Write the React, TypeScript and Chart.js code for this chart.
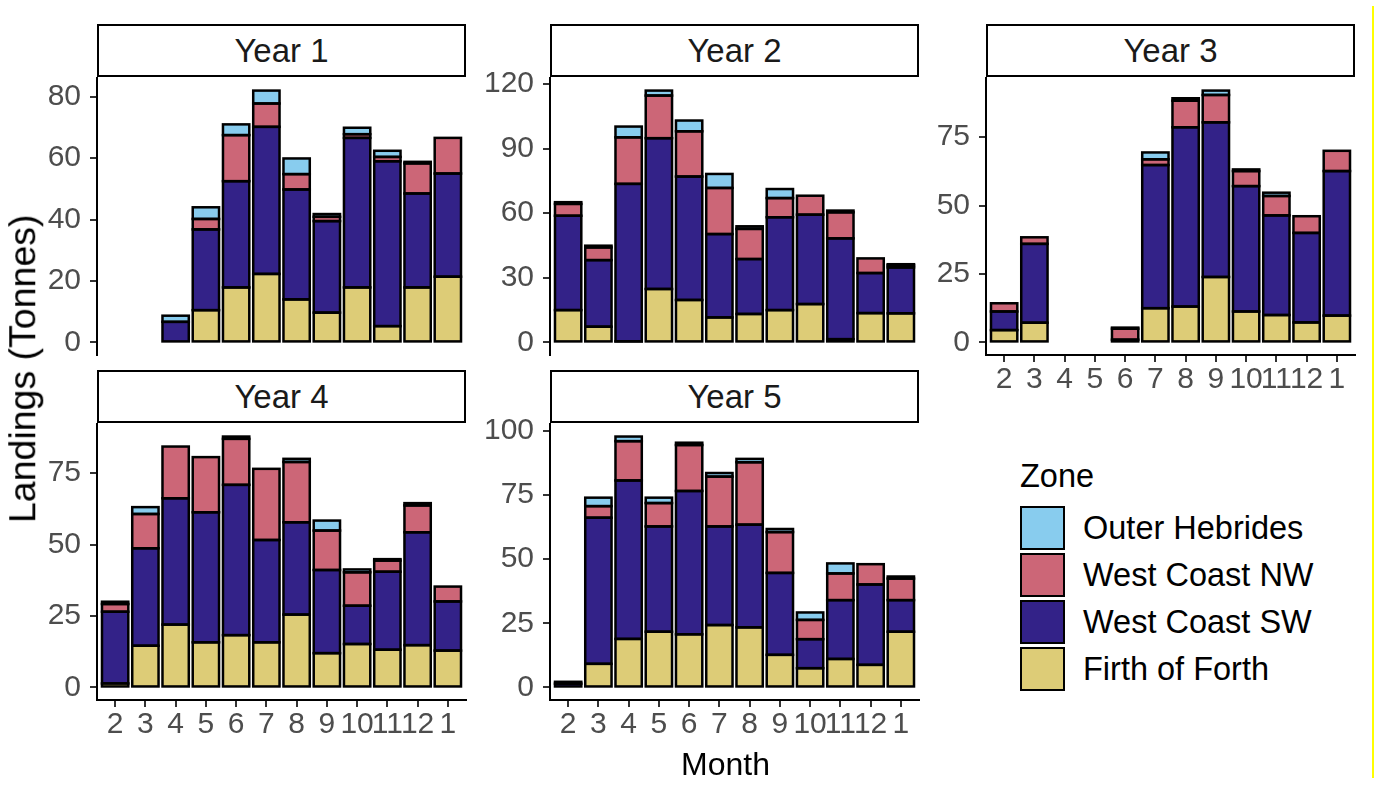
import React, { useEffect, useRef } from 'react';
import { Chart, registerables } from 'chart.js';

Chart.register(...registerables);

// ---------- data ----------
const MONTHS = ['2', '3', '4', '5', '6', '7', '8', '9', '10', '11', '12', '1'];
const ZONES = ['Outer Hebrides', 'West Coast NW', 'West Coast SW', 'Firth of Forth'];
const ZONE_COLORS = ['#88CCEE', '#CC6677', '#332288', '#DDCC77'];
const YEARS = ['Year 1', 'Year 2', 'Year 3', 'Year 4', 'Year 5'];

const Y1_FOF = [0, 0, 0, 10.5, 17.9, 22.3, 14.0, 9.7, 17.9, 5.3, 17.9, 21.4];
const Y1_WCSW = [0, 0, 6.7, 26.3, 34.6, 47.9, 35.8, 29.8, 48.7, 53.7, 30.6, 33.6];
const Y1_WCNW = [0, 0, 0, 3.4, 15.0, 7.6, 5.0, 1.4, 1.2, 1.4, 9.8, 11.6];
const Y1_OH = [0, 0, 2.0, 3.8, 3.5, 4.2, 5.1, 0.9, 2.1, 2.0, 0.5, 0];

const Y2_FOF = [15.0, 7.3, 0.5, 24.8, 19.7, 11.6, 13.2, 15.0, 17.8, 1.5, 13.6, 13.5];
const Y2_WCSW = [43.8, 30.9, 73.1, 70.0, 57.3, 38.7, 25.5, 43.1, 41.5, 46.8, 18.6, 21.3];
const Y2_WCNW = [5.5, 5.9, 21.6, 19.8, 21.0, 21.4, 14.0, 8.9, 8.8, 12.1, 6.8, 1.0];
const Y2_OH = [0.8, 0.8, 5.0, 2.3, 5.0, 6.5, 1.2, 4.2, 0, 0.8, 0, 0.5];

const Y3_FOF = [4.5, 7.2, 0, 0, 0, 12.5, 13.1, 23.9, 11.3, 10.0, 7.3, 9.8];
const Y3_WCSW = [6.8, 28.8, 0, 0, 1.0, 52.3, 65.5, 56.5, 45.8, 36.4, 32.7, 52.8];
const Y3_WCNW = [3.0, 2.4, 0, 0, 4.0, 2.1, 9.7, 10.0, 5.5, 7.1, 6.1, 7.4];
const Y3_OH = [0, 0, 0, 0, 0.4, 2.5, 0.9, 1.6, 0.6, 1.2, 0, 0];

const Y4_FOF = [1.4, 14.6, 22.0, 15.8, 18.3, 15.8, 25.5, 12.0, 15.2, 13.2, 14.8, 12.9];
const Y4_WCSW = [25.1, 34.1, 44.2, 45.5, 52.6, 35.8, 32.3, 29.1, 13.4, 27.3, 39.5, 17.2];
const Y4_WCNW = [2.7, 12.0, 18.1, 19.3, 16.1, 24.9, 21.1, 13.8, 11.7, 3.9, 9.4, 5.2];
const Y4_OH = [0.8, 2.4, 0, 0, 0.8, 0, 1.1, 3.5, 1.0, 0.5, 0.8, 0];

const Y5_FOF = [0, 9.2, 18.9, 21.7, 20.7, 24.3, 23.4, 12.7, 7.5, 11.1, 8.8, 21.7];
const Y5_WCSW = [1.5, 56.9, 61.7, 41.0, 55.8, 38.4, 40.0, 31.9, 11.3, 22.9, 31.3, 12.3];
const Y5_WCNW = [0.7, 4.5, 15.3, 9.1, 17.9, 19.4, 24.3, 15.9, 7.5, 10.4, 7.9, 8.4];
const Y5_OH = [0, 3.3, 1.8, 2.1, 0.9, 1.4, 1.3, 1.2, 2.9, 3.9, 0, 0.8];

const Y_TICKS_1 = [0, 20, 40, 60, 80];
const Y_TICKS_2 = [0, 30, 60, 90, 120];
const Y_TICKS_3 = [0, 25, 50, 75];
const Y_TICKS_4 = [0, 25, 50, 75];
const Y_TICKS_5 = [0, 25, 50, 75, 100];

// series per panel, bottom -> top stacking order: FoF, WCSW, WCNW, OH
const PANEL_SERIES = [
  [Y1_FOF, Y1_WCSW, Y1_WCNW, Y1_OH],
  [Y2_FOF, Y2_WCSW, Y2_WCNW, Y2_OH],
  [Y3_FOF, Y3_WCSW, Y3_WCNW, Y3_OH],
  [Y4_FOF, Y4_WCSW, Y4_WCNW, Y4_OH],
  [Y5_FOF, Y5_WCSW, Y5_WCNW, Y5_OH],
];
const PANEL_TICKS = [Y_TICKS_1, Y_TICKS_2, Y_TICKS_3, Y_TICKS_4, Y_TICKS_5];

// ---------- layout ----------
const FONT = '"Liberation Sans", Arial, Helvetica, sans-serif';
const PANEL_BOXES = [
  { x: 97, y: 78, w: 369, h: 277, showX: false },
  { x: 550, y: 78, w: 369, h: 277, showX: false },
  { x: 986, y: 78, w: 369, h: 277, showX: true },
  { x: 97, y: 424, w: 369, h: 276, showX: true },
  { x: 550, y: 424, w: 369, h: 276, showX: true },
];
const TICK_SIZE = 30;
const STRIP_SIZE = 33;
const LEGEND_SIZE = 32.5;
const TITLE_SIZE = 32;
const YTITLE_SIZE = 37.5;

// ggplot-like outline: stroke centred on each bar rectangle
const outlinePlugin = {
  id: 'barOutline',
  afterDatasetsDraw(chart: any) {
    const ctx = chart.ctx;
    ctx.save();
    ctx.strokeStyle = '#000000';
    ctx.lineWidth = 2.5;
    ctx.lineJoin = 'miter';
    chart.data.datasets.forEach((ds: any, di: number) => {
      const meta = chart.getDatasetMeta(di);
      meta.data.forEach((el: any, i: number) => {
        const p = ds.data[i];
        if (!p || p.y == null) return;
        const { x, y, base, width } = el.getProps(['x', 'y', 'base', 'width'], true);
        const top = Math.min(y, base);
        const h = Math.abs(base - y);
        ctx.strokeRect(x - width / 2, top, width, h);
      });
    });
    ctx.restore();
  },
};

function Panel({ index }: { index: number }) {
  const ref = useRef<HTMLCanvasElement | null>(null);
  const box = PANEL_BOXES[index];
  const PAD_T = 40;
  const PAD_B = 40;
  const PAD_R = 30;
  const Y_W = 90;
  const X_H = box.showX ? 50 : 0;
  const cw = Y_W + box.w + PAD_R;
  const ch = PAD_T + box.h + X_H + PAD_B;

  useEffect(() => {
    const series = PANEL_SERIES[index];
    const ticks = PANEL_TICKS[index];
    const totals = MONTHS.map((_, i) => series.reduce((s, arr) => s + arr[i], 0));
    const maxT = Math.max(...totals);
    // zones bottom->top: FoF(3), WCSW(2), WCNW(1), OH(0)
    const zoneIdx = [3, 2, 1, 0];
    const datasets = series.map((arr, k) => ({
      label: ZONES[zoneIdx[k]],
      data: arr.map((v, i) => ({ x: i + 1, y: v > 0 ? v : null })),
      backgroundColor: ZONE_COLORS[zoneIdx[k]],
      borderWidth: 0,
      barPercentage: 0.87,
      categoryPercentage: 1,
    }));

    const chart = new Chart(ref.current as HTMLCanvasElement, {
      type: 'bar',
      data: { datasets: datasets as any },
      plugins: [outlinePlugin],
      options: {
        animation: false,
        responsive: false,
        maintainAspectRatio: false,
        devicePixelRatio: 1,
        layout: { padding: { top: PAD_T, bottom: PAD_B, left: 0, right: PAD_R } },
        plugins: {
          legend: { display: false },
          tooltip: { enabled: false },
          title: { display: false },
        },
        scales: {
          x: {
            type: 'linear',
            stacked: true,
            min: 0.4,
            max: 12.6,
            offset: false,
            display: box.showX,
            afterBuildTicks: (s: any) => {
              s.ticks = MONTHS.map((_, i) => ({ value: i + 1 }));
            },
            afterFit: (s: any) => {
              s.height = X_H;
            },
            grid: {
              display: true,
              offset: false,
              drawOnChartArea: false,
              drawTicks: true,
              tickLength: 7,
              color: '#333333',
              lineWidth: 2,
            },
            border: { display: true, color: '#000000', width: 2 },
            ticks: {
              autoSkip: false,
              maxRotation: 0,
              minRotation: 0,
              padding: 0,
              color: '#4D4D4D',
              font: { family: FONT, size: TICK_SIZE },
              callback: (v: any) => MONTHS[Math.round(Number(v)) - 1] ?? '',
            },
          },
          y: {
            type: 'linear',
            stacked: true,
            min: -0.05 * maxT,
            max: 1.05 * maxT,
            afterBuildTicks: (s: any) => {
              s.ticks = ticks.map((v) => ({ value: v }));
            },
            afterFit: (s: any) => {
              s.width = Y_W;
            },
            grid: {
              display: true,
              drawOnChartArea: false,
              drawTicks: true,
              tickLength: 7,
              color: '#333333',
              lineWidth: 2,
            },
            border: { display: true, color: '#000000', width: 2 },
            ticks: {
              padding: 9,
              color: '#4D4D4D',
              font: { family: FONT, size: TICK_SIZE },
              callback: (v: any) => String(v),
            },
          },
        },
      } as any,
    });
    return () => chart.destroy();
  }, [index]);

  return (
    <>
      <div
        style={{
          position: 'absolute',
          left: box.x,
          top: box.y - 54,
          width: box.w,
          height: 53,
          border: '2px solid #000',
          boxSizing: 'border-box',
          display: 'flex',
          alignItems: 'center',
          justifyContent: 'center',
          fontFamily: FONT,
          fontSize: STRIP_SIZE,
          color: '#1A1A1A',
          background: '#fff',
        }}
      >
        {YEARS[index]}
      </div>
      <canvas
        ref={ref}
        width={cw}
        height={ch}
        style={{
          position: 'absolute',
          left: box.x - Y_W,
          top: box.y - PAD_T,
          width: cw,
          height: ch,
        }}
      />
    </>
  );
}

function Legend() {
  const tops = [506, 553, 600, 647];
  return (
    <>
      <div
        style={{
          position: 'absolute',
          left: 1020,
          top: 476 - LEGEND_SIZE * 0.49,
          fontFamily: FONT,
          fontSize: LEGEND_SIZE,
          lineHeight: `${LEGEND_SIZE}px`,
          color: '#000',
          whiteSpace: 'nowrap',
        }}
      >
        Zone
      </div>
      {ZONES.map((z, i) => (
        <React.Fragment key={z}>
          <div
            style={{
              position: 'absolute',
              left: 1020,
              top: tops[i],
              width: 45,
              height: 44,
              boxSizing: 'border-box',
              border: '2px solid #000',
              background: ZONE_COLORS[i],
            }}
          />
          <div
            style={{
              position: 'absolute',
              left: 1083,
              top: tops[i] + 22 - LEGEND_SIZE * 0.49,
              fontFamily: FONT,
              fontSize: LEGEND_SIZE,
              lineHeight: `${LEGEND_SIZE}px`,
              color: '#000',
              whiteSpace: 'nowrap',
            }}
          >
            {z}
          </div>
        </React.Fragment>
      ))}
    </>
  );
}

export default function App() {
  return (
    <div
      style={{
        position: 'absolute',
        left: 0,
        top: 0,
        width: 1388,
        height: 804,
        background: '#ffffff',
        overflow: 'hidden',
      }}
    >
      {PANEL_BOXES.map((_, i) => (
        <Panel key={i} index={i} />
      ))}
      <Legend />
      <div
        style={{
          position: 'absolute',
          left: 725.5 - 200,
          top: 764 - TITLE_SIZE * 0.49,
          width: 400,
          textAlign: 'center',
          fontFamily: FONT,
          fontSize: TITLE_SIZE,
          lineHeight: `${TITLE_SIZE}px`,
          color: '#000',
        }}
      >
        Month
      </div>
      <div
        style={{
          position: 'absolute',
          left: 23 - 250,
          top: 369 - YTITLE_SIZE / 2,
          width: 500,
          height: YTITLE_SIZE,
          textAlign: 'center',
          fontFamily: FONT,
          fontSize: YTITLE_SIZE,
          lineHeight: `${YTITLE_SIZE}px`,
          color: '#000',
          transform: 'rotate(-90deg)',
          transformOrigin: '50% 50%',
          whiteSpace: 'nowrap',
        }}
      >
        Landings (Tonnes)
      </div>
      <div
        style={{
          position: 'absolute',
          left: 1372,
          top: 6,
          width: 2,
          height: 772,
          background: '#FFFF00',
        }}
      />
    </div>
  );
}
